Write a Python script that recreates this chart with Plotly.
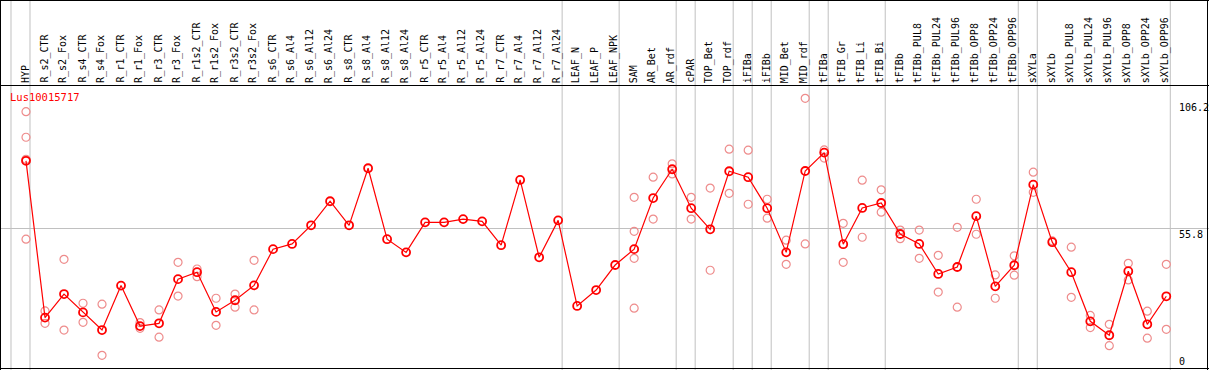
import plotly.graph_objects as go

categories = [
    "HYP", "R_s2_CTR", "R_s2_Fox", "R_s4_CTR", "R_s4_Fox", "R_r1_CTR", "R_r1_Fox",
    "R_r3_CTR", "R_r3_Fox", "R_r1s2_CTR", "R_r1s2_Fox", "R_r3s2_CTR", "R_r3s2_Fox",
    "R_s6_CTR", "R_s6_Al4", "R_s6_Al12", "R_s6_Al24", "R_s8_CTR", "R_s8_Al4",
    "R_s8_Al12", "R_s8_Al24", "R_r5_CTR", "R_r5_Al4", "R_r5_Al12", "R_r5_Al24",
    "R_r7_CTR", "R_r7_Al4", "R_r7_Al12", "R_r7_Al24", "LEAF_N", "LEAF_P", "LEAF_NPK",
    "SAM", "AR_Bet", "AR_rdf", "cPAR", "TOP_Bet", "TOP_rdf", "iFIBa", "iFIBb",
    "MID_Bet", "MID_rdf", "tFIBa", "tFIB_Gr", "tFIB_Li", "tFIB_Bi", "tFIBb",
    "tFIBb_PUL8", "tFIBb_PUL24", "tFIBb_PUL96", "tFIBb_OPP8", "tFIBb_OPP24",
    "tFIBb_OPP96", "sXYLa", "sXYLb", "sXYLb_PUL8", "sXYLb_PUL24", "sXYLb_PUL96",
    "sXYLb_OPP8", "sXYLb_OPP24", "sXYLb_OPP96",
]

mean_values = [
    82.9, 19.7, 29.2, 21.8, 14.7, 32.6, 16.3, 17.4, 35.2, 38.0, 22.0, 26.7, 32.7,
    47.3, 49.4, 56.9, 66.6, 56.9, 79.9, 51.3, 46.0, 58.1, 58.1, 59.4, 58.5,
    48.9, 75.2, 44.0, 58.9, 24.4, 30.8, 40.9,
    47.3, 67.9, 79.5, 63.8, 55.3, 78.7, 76.3, 63.8, 46.0, 78.8, 86.2, 49.3, 63.9,
    65.9, 53.4, 49.4, 37.3, 40.1, 60.6, 32.3, 40.8, 73.3, 50.1, 38.0, 18.2, 12.6,
    38.4, 17.0, 28.3,
]

replicate_values = [
    [102.7, 92.4, 83.5, 51.3], [22.4, 17.4], [43.2, 14.7], [25.5, 17.8], [25.1, 4.5],
    [], [17.7, 15.4], [22.8, 11.8], [42.0, 28.4], [39.3, 36.2], [27.5, 16.6],
    [29.2, 23.9], [42.8, 22.8],
    [], [], [], [], [], [], [], [], [], [], [], [], [], [], [], [], [], [], [],
    [68.2, 54.5, 43.6, 23.5], [76.3, 59.4], [81.7, 77.6], [68.2, 59.4], [71.9, 38.8],
    [87.6, 69.8], [87.2, 65.4], [67.4, 59.8], [50.9, 41.2], [108.1, 49.4],
    [87.3, 84.0], [57.7, 42.0], [75.1, 52.1], [71.2, 62.2], [55.0, 51.5],
    [55.0, 43.6], [44.8, 30.0], [56.1, 23.9], [67.4, 53.3], [36.9, 27.5],
    [44.6, 36.8], [78.3, 70.2], [50.6], [48.1, 27.9], [20.6, 15.7], [17.0, 8.4],
    [41.6, 34.9], [22.3, 11.4], [41.2, 15.0],
]

group_breaks = [-1, 0, 28, 31, 34, 35, 37, 38, 39, 41, 42, 45, 52, 53, 60]
y_tick_values = [106.2, 55.8, 0]
y_tick_labels = ["106.2", "55.8", "0"]
title_text = "Lus10015717"

W, H = 1209, 370
T, B = 86, 2
PH = H - T - B
MONO = "DejaVu Sans Mono"

x_idx = list(range(len(categories)))
rep_x, rep_y = [], []
for i, reps in enumerate(replicate_values):
    for v in reps:
        rep_x.append(i)
        rep_y.append(v)

fig = go.Figure()
fig.add_trace(go.Scatter(
    x=rep_x, y=rep_y, mode="markers",
    marker=dict(symbol="circle-open", size=8, color="rgb(238,140,140)",
                line=dict(width=1.2, color="rgb(238,140,140)")),
    hoverinfo="skip", showlegend=False,
))
fig.add_trace(go.Scatter(
    x=x_idx, y=mean_values, mode="lines+markers",
    line=dict(color="#ff0000", width=1.2),
    marker=dict(symbol="circle-open", size=8, color="#ff0000",
                line=dict(width=1.8, color="#ff0000")),
    text=categories, showlegend=False,
))

step = 19.005
x0 = -26 / step
x1 = x0 + W / step
scale = 263.5 / 106.2
y_bot = -(368 - 366.5) / scale
y_top = (366.5 - 86) / scale

shapes = []
for b in group_breaks:
    shapes.append(dict(type="line", xref="x", yref="paper", x0=b + 0.21, x1=b + 0.21,
                       y0=-0.01, y1=(H - B) / PH + 0.01,
                       line=dict(color="#c0c0c0", width=1), layer="below"))

def py(p):
    return (H - B - p) / PH

for yy in [0.5, 85.5, 368.5]:
    shapes.append(dict(type="line", xref="paper", yref="paper", x0=0, x1=1,
                       y0=py(yy), y1=py(yy), line=dict(color="black", width=1)))
for xx in [0.5, 1207.5]:
    shapes.append(dict(type="line", xref="paper", yref="paper", x0=xx / W, x1=xx / W,
                       y0=py(370), y1=py(0), line=dict(color="black", width=1)))

annotations = []
for i, c in enumerate(categories):
    annotations.append(dict(x=i - 0.05, xref="x", y=py(84), yref="paper", text=c,
                            textangle=-90, showarrow=False, xanchor="center",
                            yanchor="bottom", font=dict(family=MONO, size=10, color="black"),
                            borderpad=0))
annotations.append(dict(x=9 / W, xref="paper", y=py(90), yref="paper", text=title_text,
                        showarrow=False, xanchor="left", yanchor="top", borderpad=0,
                        font=dict(family=MONO, size=10.5, color="#ff0000")))
for v, t in zip(y_tick_values, y_tick_labels):
    annotations.append(dict(x=1178 / W, xref="paper", y=v if v > 0 else y_bot, yref="y",
                            text=t, showarrow=False, xanchor="left",
                            yanchor="top" if v > 0 else "bottom", borderpad=0,
                            yshift=2 if v > 100 else 0,
                            font=dict(family=MONO, size=10, color="black")))

fig.update_layout(
    width=W, height=H, margin=dict(l=0, r=0, t=T, b=B),
    paper_bgcolor="white", plot_bgcolor="white",
    xaxis=dict(range=[x0, x1], showticklabels=False, showgrid=False, zeroline=False,
               showline=False),
    yaxis=dict(range=[y_bot, y_top], tickvals=[55.8], showticklabels=False,
               showgrid=True, gridcolor="#c0c0c0", gridwidth=1, zeroline=False,
               showline=False, ticks=""),
    shapes=shapes, annotations=annotations,
)

fig.write_html("out.html", config={"displayModeBar": False},
               post_script="document.body.style.margin='0';document.body.style.overflow='hidden';")
